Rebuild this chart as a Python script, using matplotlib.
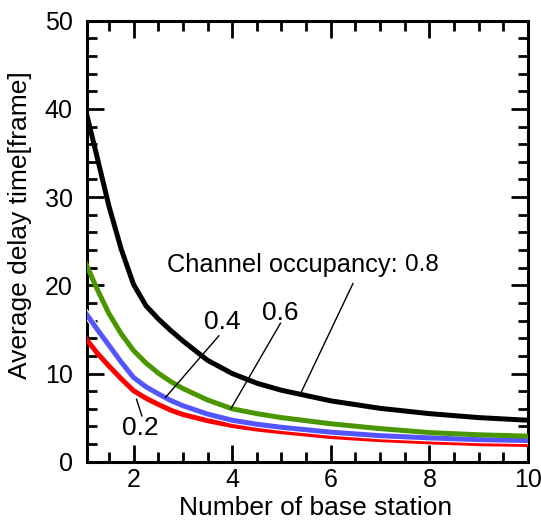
import matplotlib
matplotlib.use("Agg")
import matplotlib.pyplot as plt
import matplotlib.patheffects as pe
from matplotlib.ticker import MultipleLocator

plt.rcParams['font.family'] = ['Liberation Sans', 'DejaVu Sans']

x_stations = [1, 1.25, 1.5, 1.75, 2, 2.25, 2.5, 2.75, 3, 3.5, 4, 4.5, 5, 6, 7, 8, 9, 10]
delay_08 = [40.5, 34.8, 29.0, 24.1, 20.1, 17.7, 16.2, 14.9, 13.7, 11.5, 10.0, 8.9, 8.1, 6.9, 6.05, 5.45, 5.0, 4.7]
delay_06 = [22.9, 19.7, 16.8, 14.5, 12.6, 11.2, 10.05, 9.1, 8.3, 7.0, 6.0, 5.45, 5.0, 4.3, 3.75, 3.3, 3.05, 2.9]
delay_04 = [17.1, 15.1, 13.2, 11.3, 9.55, 8.5, 7.7, 6.95, 6.35, 5.4, 4.7, 4.25, 3.9, 3.35, 2.95, 2.7, 2.5, 2.4]
delay_02 = [14.2, 12.4, 10.85, 9.4, 8.05, 7.2, 6.5, 5.85, 5.35, 4.65, 4.1, 3.7, 3.4, 2.85, 2.5, 2.25, 2.05, 1.95]

xticks = [2, 4, 6, 8, 10]
yticks = [0, 10, 20, 30, 40, 50]

fig = plt.figure(figsize=(5.41, 5.23), dpi=100)
ax = fig.add_axes([86.7/541, 1-461.7/523, (528-86.7)/541, (461.7-20.7)/523])

lw = 3.6
ax.plot(x_stations, delay_02, color='#ff0000', lw=lw, solid_capstyle='butt', solid_joinstyle='round', zorder=3)
ax.plot(x_stations, delay_04, color='#5555ff', lw=lw, solid_capstyle='butt', solid_joinstyle='round', zorder=4,
        path_effects=[pe.Stroke(linewidth=lw+1.6, foreground='white'), pe.Normal()])
ax.plot(x_stations, delay_06, color='#4a9600', lw=lw, solid_capstyle='butt', solid_joinstyle='round', zorder=5)
ax.plot(x_stations, delay_08, color='#000000', lw=lw, solid_capstyle='butt', solid_joinstyle='round', zorder=6)

ax.set_xlim(1.05, 10)
ax.set_ylim(0, 50)
ax.set_xticks(xticks)
ax.set_yticks(yticks)
ax.xaxis.set_minor_locator(MultipleLocator(0.5))
ax.yaxis.set_minor_locator(MultipleLocator(2))
ax.tick_params(which='both', direction='in', top=True, right=True, width=2.0, labelsize=18)
ax.tick_params(which='major', length=12.5)
ax.tick_params(which='minor', length=7)
ax.tick_params(axis='x', pad=4.5)
ax.tick_params(axis='y', pad=10)
for s in ax.spines.values():
    s.set_linewidth(2.2)

fs = 19
y_title = (461.7 - 265) / 8.81
ax.text(1.0 + (166.7-84)/49.2, y_title, 'Channel occupancy:', fontsize=18.3, ha='left', va='center')
ax.text(1.0 + (404.5-84)/49.2, y_title, '0.8', fontsize=17.5, ha='left', va='center')
ax.text(3.8, 15.8, '0.4', fontsize=fs, ha='center', va='center')
ax.text(4.97, 16.9, '0.6', fontsize=fs, ha='center', va='center')
ax.text(2.13, 3.79, '0.2', fontsize=fs, ha='center', va='center')

leader_kw = dict(color='black', lw=1.0, zorder=7)
ax.plot([6.45, 5.39], [20.2, 7.75], **leader_kw)
ax.plot([3.73, 2.65], [14.27, 7.3], **leader_kw)
ax.plot([4.98, 3.98], [15.7, 6.06], **leader_kw)
ax.plot([2.17, 2.06], [5.19, 7.08], **leader_kw)

fig.text(315.8/541, 1-515/523, 'Number of base station', fontsize=fs, ha='center', va='baseline')
fig.text(20.5/541, 1-225/523, 'Average delay time[frame]', fontsize=fs, ha='center', va='center', rotation=90)

fig.savefig('out.png', dpi=100)
